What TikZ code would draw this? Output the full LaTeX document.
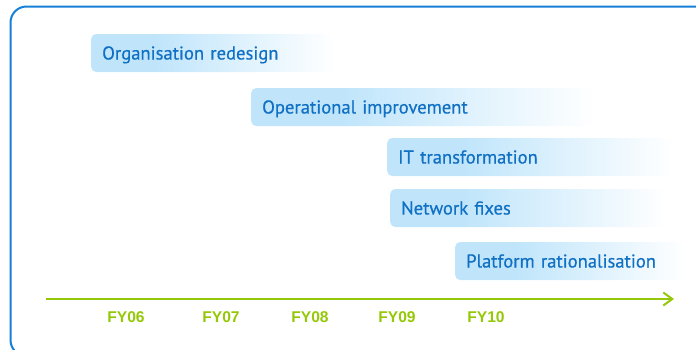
\documentclass[tikz,border=0pt]{standalone}
\usepackage{fontspec}
\setmainfont{PT Sans}
\newfontfamily\barfont[FakeBold=0.5]{PT Sans}
\newfontfamily\axisfont{Liberation Sans}
\usetikzlibrary{arrows.meta}
\definecolor{framecol}{RGB}{22,128,216}
\definecolor{barfill}{RGB}{192,229,251}
\definecolor{bartext}{RGB}{16,112,196}
\definecolor{axisgreen}{RGB}{148,200,8}
% light blue that stays solid near the left end, then fades to white
\pgfdeclarehorizontalshading{barfade}{100bp}{%
  color(0bp)=(barfill); color(25bp)=(barfill); color(38bp)=(barfill);
  color(74bp)=(white); color(100bp)=(white)}
\begin{document}
\begin{tikzpicture}[x=1pt,y=-1pt,
  bar/.style={shading=barfade, rounded corners=5pt, anchor=west,
    minimum height=38pt, inner xsep=11pt, inner ysep=0pt,
    text width=#1, align=left, text height=13pt, text depth=0pt,
    text=bartext, font=\barfont\fontsize{18.6}{20}\selectfont},
  year/.style={anchor=base, text=axisgreen, inner sep=0pt,
    font=\axisfont\bfseries\fontsize{15.6}{17}\selectfont},
  axisline/.style={draw=axisgreen, line width=2pt,
    -{Straight Barb[length=9pt,width=13pt]}}]
\useasboundingbox (0,0) rectangle (696,349);

% outer frame, running off the right and bottom edges
\draw[framecol, line width=2pt, rounded corners=16pt] (10.5,6.5) rectangle (712,356);

% workstream bars
\node[bar=227pt] (org)  at (91,53)  {Organisation redesign};
\node[bar=330pt] (ops)  at (251,107) {Operational improvement};
\node[bar=271pt] (it)   at (387,157) {IT transformation};
\node[bar=260pt] (net)  at (390,208) {Network fixes};
\node[bar=213pt] (plat) at (455,261) {Platform rationalisation};

% time axis
\coordinate (axstart) at (46,299);
\coordinate (axend) at (674,299);
\draw[axisline] (axstart) -- (axend);

% financial years
\node[year] (fy06) at (126,322.5) {FY06};
\node[year] (fy07) at (221,322.5) {FY07};
\node[year] (fy08) at (310,322.5) {FY08};
\node[year] (fy09) at (397,322.5) {FY09};
\node[year] (fy10) at (486,322.5) {FY10};
\end{tikzpicture}
\end{document}
